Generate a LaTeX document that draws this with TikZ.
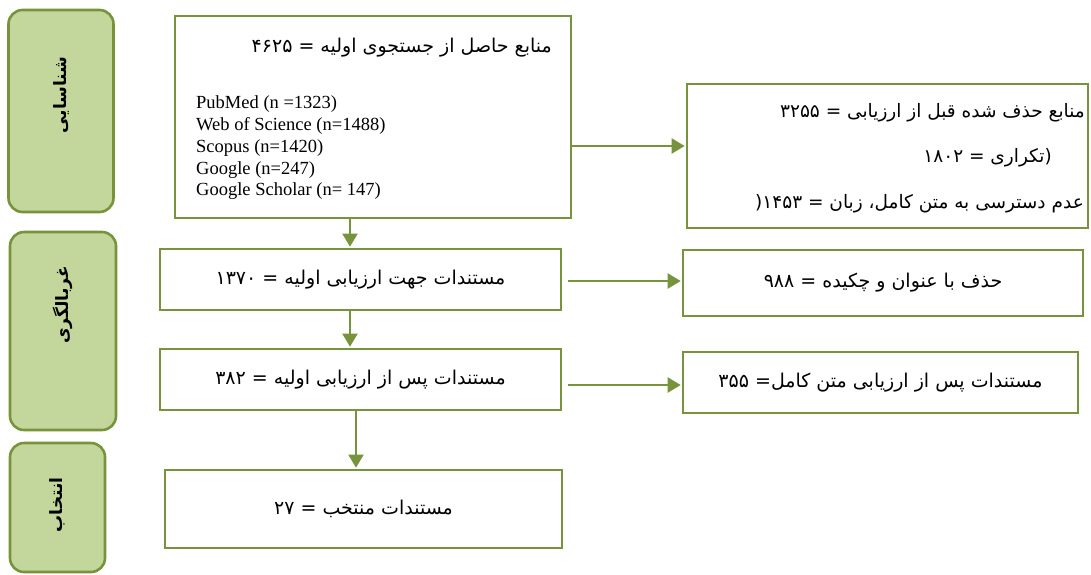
\documentclass[tikz,border=0pt]{standalone}
\usepackage{fontspec}
\setmainfont{Liberation Serif}
\newfontfamily\fa[Script=Arabic]{DejaVu Sans}
\TeXXeTstate=1
\usetikzlibrary{arrows.meta,calc}
\definecolor{gborder}{HTML}{77933C}
\definecolor{gfill}{HTML}{C3D69B}
\newcommand\rl[1]{{\fa\beginR #1\endR}}
\begin{document}
\begin{tikzpicture}[x=1pt,y=-1pt,
  box/.style={draw=gborder, line width=2.6pt, fill=white, inner sep=0pt, font=\fa\fontsize{19}{22}\selectfont},
  side/.style={draw=gborder, line width=2.6pt, fill=gfill, rounded corners=14pt, inner sep=0pt},
  sidelbl/.style={inner sep=0pt, rotate=90, font=\fa\bfseries\fontsize{17}{20}\selectfont},
  lbl/.style={inner sep=0pt, font=\fa\fontsize{18.5}{22}\selectfont},
  lat/.style={inner sep=0pt, anchor=west, font=\fontsize{18.5}{22}\selectfont},
  arr/.style={draw=gborder, line width=2pt, -{Triangle[length=13pt,width=15pt]}, shorten >=1pt}
]
\useasboundingbox (0,0) rectangle (1091,574);
% side boxes
\node[side, minimum width=105pt, minimum height=202pt] (s1) at (61,111) {};
\node[sidelbl] (s1t) at (61,95) {\rl{شناسایی}};
\node[side, minimum width=106pt, minimum height=198pt] (s2) at (63,331) {};
\node[sidelbl] (s2t) at (63,305) {\rl{غربالگری}};
\node[side, minimum width=95pt, minimum height=129pt] (s3) at (57.5,507.5) {};
\node[sidelbl] (s3t) at (57.5,505) {\rl{انتخاب}};
% main column
\node[box, minimum width=396pt, minimum height=202pt] (main1) at (373,117) {};
\node[lbl, anchor=east, font=\fa\fontsize{19}{22}\selectfont] (t1) at (552,48) {\rl{منابع حاصل از جستجوی اولیه = ۴۶۲۵}};
\node[lat] (l1) at (196,104) {PubMed (n =1323)};
\node[lat] (l2) at (196,126) {Web of Science (n=1488)};
\node[lat] (l3) at (196,148) {Scopus (n=1420)};
\node[lat] (l4) at (196,170) {Google (n=247)};
\node[lat] (l5) at (196,191) {Google Scholar (n= 147)};
\node[box, minimum width=401pt, minimum height=61pt] (box2) at (360.5,279.5) {\rl{مستندات جهت ارزیابی اولیه = ۱۳۷۰}};
\node[box, minimum width=401pt, minimum height=61pt] (box3) at (360.5,379.5) {\rl{مستندات پس از ارزیابی اولیه = ۳۸۲}};
\node[box, minimum width=397pt, minimum height=78pt] (box4) at (363.5,509) {\rl{مستندات منتخب = ۲۷}};
% right column
\node[box, minimum width=401pt, minimum height=144pt] (right1) at (887.5,156) {};
\node[lbl, anchor=east] (r1a) at (1085,113) {\rl{منابع حذف شده قبل از ارزیابی = ۳۲۵۵}};
\node[lbl, anchor=east] (r1b) at (1052,158) {\rl{(\kern0pt تکراری = ۱۸۰۲}};
\node[lbl, anchor=east] (r1c) at (1084,204) {\rl{عدم دسترسی به متن کامل، زبان = ۱۴۵۳\kern0pt(}};
\node[box, minimum width=400pt, minimum height=66pt] (right2) at (883,283) {\rl{حذف با عنوان و چکیده = ۹۸۸}};
\node[box, minimum width=395pt, minimum height=61pt] (right3) at (880.5,382.5) {\rl{مستندات پس از ارزیابی متن کامل= ۳۵۵}};
% arrows
\coordinate (v1) at (350,0);
\coordinate (v3) at (356,0);
\coordinate (h1) at (0,146);
\coordinate (h2) at (0,281);
\coordinate (h3) at (0,385);
\draw[arr] (main1.south -| v1) -- (box2.north -| v1);
\draw[arr] (box2.south -| v1) -- (box3.north -| v1);
\draw[arr] (box3.south -| v3) -- (box4.north -| v3);
\draw[arr] (main1.east |- h1) -- (right1.west |- h1);
\draw[arr] ([xshift=6pt]box2.east |- h2) -- (right2.west |- h2);
\draw[arr] ([xshift=6pt]box3.east |- h3) -- (right3.west |- h3);
\end{tikzpicture}
\end{document}
